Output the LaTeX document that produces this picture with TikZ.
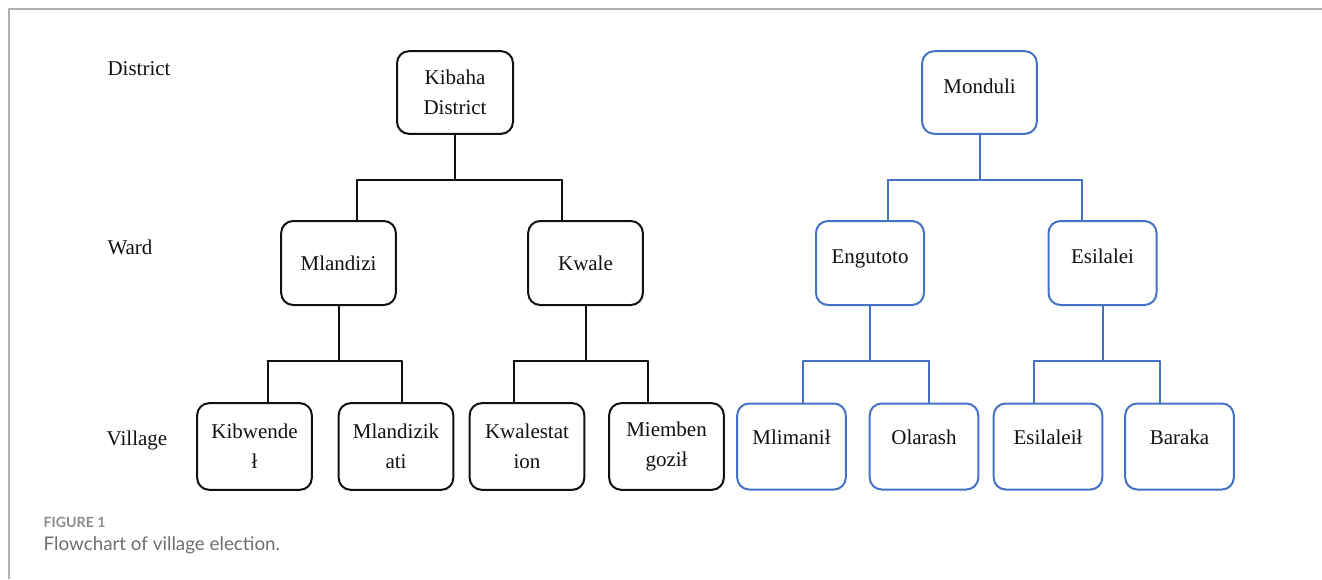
\documentclass[tikz,border=0pt]{standalone}
\usepackage{fontspec}
\setmainfont{Liberation Serif}
\newfontfamily\capfont{Lato}
\usepackage{xcolor}
\usepackage{tikz}
\usetikzlibrary{positioning}
\definecolor{vfBlue}{HTML}{4472C4}
\definecolor{vfInk}{HTML}{111111}
\definecolor{vfFrame}{HTML}{B0B0B0}
\definecolor{vfCaption}{HTML}{6D6E71}
\definecolor{vfCaptionHead}{HTML}{8A8B8D}
\tikzset{
  vf diagram/.style={font=\fontsize{15.75}{22.5}\selectfont, text=vfInk,
    line cap=round, line join=round},
  vf box/.style={draw=vfInk, fill=white, line width=1.5pt,
    rounded corners=9pt, align=center, inner sep=2pt,
    minimum width=86pt, minimum height=63pt},
  vf blue box/.style={vf box, draw=vfBlue, minimum width=81.5pt},
  vf raised/.style={text height=11pt, text depth=10pt},
  vf raised more/.style={text height=11pt, text depth=14pt},
  vf link/.style={draw=vfInk, line width=1.5pt},
  vf blue link/.style={vf link, draw=vfBlue},
  vf level/.style={anchor=center},
  vf caption/.style={font=\capfont\fontsize{14.1}{16}\selectfont, text=vfCaption, anchor=west},
  vf caption head/.style={vf caption, font=\capfont\bfseries\fontsize{10.6}{12}\selectfont, text=vfCaptionHead}
}
\begin{document}
\begin{tikzpicture}[vf diagram,x=0.75pt,y=0.75pt]
\useasboundingbox (0,0) rectangle (1322,-579);
\draw[draw=vfFrame, line width=1.5pt, line cap=butt] (9,-579) -- (9,-9) -- (1322,-9);

% level names
\node[vf level] (lvldistrict) at (139,-69) {District};
\node[vf level] (lvlward) at (130,-247) {Ward};
\node[vf level] (lvlvillage) at (137,-440) {Village};

% Kibaha tree
\node[vf box, minimum width=87pt, minimum height=62pt] (kibaha) at (455,-92.5) {Kibaha\\District};
\node[vf box] (mlandizi) at (338.5,-263) {Mlandizi};
\node[vf box] (kwale) at (585.5,-263) {Kwale};
\node[vf box, minimum height=65pt] (kibwende) at (254.5,-446.5) {Kibwende\\ł};
\node[vf box, minimum height=65pt] (mlandizikati) at (396,-446.5) {Mlandizik\\ati};
\node[vf box, minimum height=65pt] (kwalestation) at (527,-446.5) {Kwalestat\\ion};
\node[vf box, minimum height=65pt] (miembengozi) at (666.5,-446.5) {Miemben\\goził};

% Monduli tree
\node[vf blue box, vf raised, minimum width=86pt, minimum height=62pt] (monduli) at (979.5,-92.5) {Monduli};
\node[vf blue box, vf raised, minimum width=81pt] (engutoto) at (870,-263) {Engutoto};
\node[vf blue box, vf raised, minimum width=81pt] (esilalei) at (1102.5,-263) {Esilalei};
\node[vf blue box, vf raised more, minimum height=64.5pt] (mlimani) at (791.5,-446.5) {Mlimanił};
\node[vf blue box, vf raised more, minimum height=64.5pt] (olarash) at (924,-446.5) {Olarash};
\node[vf blue box, vf raised more, minimum height=64.5pt] (esilaleii) at (1048,-446.5) {Esilaleił};
\node[vf blue box, vf raised more, minimum height=64.5pt] (baraka) at (1179.5,-446.5) {Baraka};

% forks
\coordinate (topbar) at (0,-180);
\coordinate (lowbar) at (0,-361);
\foreach \pa/\ca/\cb/\dl/\dr/\bar/\lk in {
  kibaha/mlandizi/kwale/98/107/topbar/vf link,
  mlandizi/kibwende/mlandizikati/71/63/lowbar/vf link,
  kwale/kwalestation/miembengozi/72/62/lowbar/vf link,
  monduli/engutoto/esilalei/92/102/topbar/vf blue link,
  engutoto/mlimani/olarash/67/59/lowbar/vf blue link,
  esilalei/esilaleii/baraka/69/57/lowbar/vf blue link}{
  \draw[\lk] (\pa.south) -- (\pa.south |- \bar) coordinate (j);
  \draw[\lk] ([shift={(-\dl,0)}]j) coordinate (jl) -- ([shift={(\dr,0)}]j) coordinate (jr);
  \draw[\lk] (jl) -- (jl |- \ca.north);
  \draw[\lk] (jr) -- (jr |- \cb.north);
}

% caption
\node[vf caption head] (fighead) at (39,-522) {FIGURE 1};
\node[vf caption] (figtext) at (39,-545) {Flowchart of village election.};
\end{tikzpicture}
\end{document}
